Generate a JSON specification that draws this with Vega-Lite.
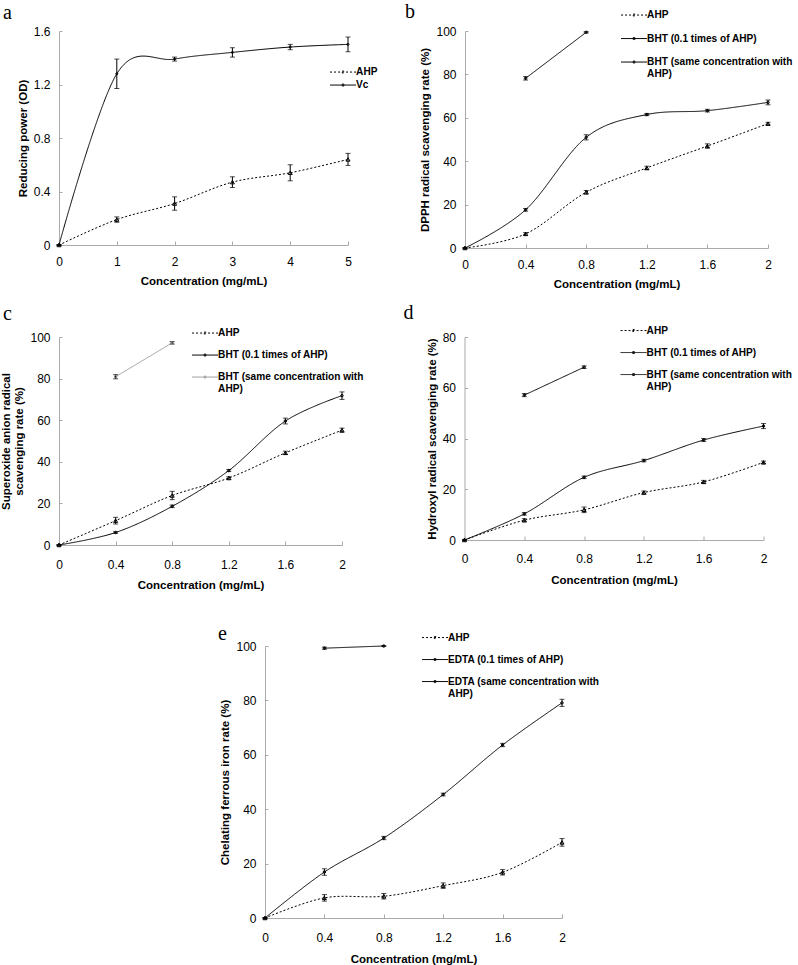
{
  "$schema": "https://vega.github.io/schema/vega-lite/v6.json",
  "padding": {"left": 0, "top": 2, "right": 0, "bottom": 0},
  "config": {
    "view": {"stroke": null},
    "font": "Liberation Sans",
    "axis": {"grid": false, "domainColor": "#aaaaaa", "tickColor": "#aaaaaa", "labelFont": "Liberation Sans", "labelFontSize": 12, "labelColor": "#000", "titleFont": "Liberation Sans", "titleFontSize": 11.5, "titleFontWeight": "bold", "titleColor": "#000"},
    "axisX": {"tickSize": -4, "labelPadding": 15, "titlePadding": 8, "labelFlush": false},
    "axisY": {"tickSize": -3, "labelPadding": 12, "titlePadding": 5},
    "legend": {"title": null, "orient": "none", "symbolType": "M-1,0L5.5,0M2.05,-0.25L2.45,-0.25L2.45,0.25L2.05,0.25Z", "symbolSize": 64, "symbolStrokeWidth": 1, "symbolFillColor": "transparent", "labelOffset": 17, "padding": 0, "rowPadding": 11, "labelFont": "Liberation Sans", "labelFontWeight": "bold", "labelFontSize": 10.1, "labelColor": "#000", "labelLimit": 500},
    "tick": {"bandSize": 6},
    "title": {"anchor": "start", "frame": "group", "font": "Liberation Serif", "fontSize": 20, "fontWeight": "normal", "baseline": "bottom", "color": "#000"}
  },
  "resolve": {"scale": {"color": "independent", "strokeDash": "independent"}, "legend": {"color": "independent", "strokeDash": "independent"}},
  "vconcat": [
    {
      "resolve": {"scale": {"color": "independent", "strokeDash": "independent"}, "legend": {"color": "independent", "strokeDash": "independent"}},
      "vconcat": [
        {
          "resolve": {"scale": {"color": "independent", "strokeDash": "independent"}, "legend": {"color": "independent", "strokeDash": "independent"}},
          "hconcat": [
            {
              "width": 289, "height": 214,
              "title": {"text": "a", "dx": -56, "offset": 2},
              "data": {"values": [
                {"x": 0, "y": 0, "err": 0, "s": "AHP"},
                {"x": 1, "y": 0.19, "err": 0.02, "s": "AHP"},
                {"x": 2, "y": 0.31, "err": 0.05, "s": "AHP"},
                {"x": 3, "y": 0.47, "err": 0.04, "s": "AHP"},
                {"x": 4, "y": 0.54, "err": 0.06, "s": "AHP"},
                {"x": 5, "y": 0.64, "err": 0.045, "s": "AHP"},
                {"x": 0, "y": 0, "err": 0, "s": "Vc"},
                {"x": 1, "y": 1.28, "err": 0.11, "s": "Vc"},
                {"x": 2, "y": 1.39, "err": 0.015, "s": "Vc"},
                {"x": 3, "y": 1.44, "err": 0.035, "s": "Vc"},
                {"x": 4, "y": 1.48, "err": 0.02, "s": "Vc"},
                {"x": 5, "y": 1.5, "err": 0.055, "s": "Vc"}
              ]},
              "encoding": {
                "x": {"field": "x", "type": "quantitative", "scale": {"domain": [0, 5], "nice": false}, "axis": {"values": [0, 1, 2, 3, 4, 5], "format": "~g", "title": "Concentration (mg/mL)"}},
                "y": {"field": "y", "type": "quantitative", "scale": {"domain": [0, 1.6], "nice": false}, "axis": {"values": [0, 0.4, 0.8, 1.2, 1.6], "format": "~g", "title": "Reducing power (OD)"}}
              },
              "layer": [
                {
                  "mark": {"type": "line", "interpolate": "cardinal", "strokeWidth": 1},
                  "encoding": {
                    "color": {"field": "s", "type": "nominal", "scale": {"domain": ["AHP", "Vc"], "range": ["#000000", "#000000"]},
                      "legend": {"legendX": 270, "legendY": 36, "rowPadding": 2, "symbolType": "M-1,0L5.5,0M2.05,-0.25L2.45,-0.25L2.45,0.25L2.05,0.25Z"}},
                    "strokeDash": {"field": "s", "type": "nominal", "scale": {"domain": ["AHP", "Vc"], "range": [[2, 2], [1, 0]]}}
                  }
                },
                {
                  "mark": {"type": "errorbar", "ticks": true, "color": "#000", "thickness": 1},
                  "encoding": {"yError": {"field": "err"}, "detail": {"field": "s"}}
                },
                {
                  "mark": {"type": "point", "filled": false, "strokeWidth": 1, "opacity": 1, "color": "#000"},
                  "encoding": {
                    "shape": {"condition": {"test": "datum.s=='AHP'", "value": "triangle-up"}, "value": "circle"},
                    "size": {"condition": {"test": "datum.s=='AHP'", "value": 16}, "value": 4}}
                }
              ]
            },
            {
              "width": 303, "height": 217,
              "title": {"text": "b", "dx": -60, "offset": -12},
              "data": {"values": [
                {"x": 0, "y": 0, "err": 0, "s": "AHP"},
                {"x": 0.4, "y": 6.5, "err": 0.6, "s": "AHP"},
                {"x": 0.8, "y": 25.7, "err": 0.8, "s": "AHP"},
                {"x": 1.2, "y": 36.9, "err": 0.8, "s": "AHP"},
                {"x": 1.6, "y": 47, "err": 1, "s": "AHP"},
                {"x": 2, "y": 57.3, "err": 0.6, "s": "AHP"},
                {"x": 0, "y": 0, "err": 0, "s": "BHT (0.1 times of AHP)"},
                {"x": 0.4, "y": 17.6, "err": 0.6, "s": "BHT (0.1 times of AHP)"},
                {"x": 0.8, "y": 51, "err": 1.2, "s": "BHT (0.1 times of AHP)"},
                {"x": 1.2, "y": 61.5, "err": 0.5, "s": "BHT (0.1 times of AHP)"},
                {"x": 1.6, "y": 63.3, "err": 0.6, "s": "BHT (0.1 times of AHP)"},
                {"x": 2, "y": 67.1, "err": 1.1, "s": "BHT (0.1 times of AHP)"},
                {"x": 0.4, "y": 78.2, "err": 0.8, "s": "BHT (same concentration with AHP)"},
                {"x": 0.8, "y": 99.4, "err": 0.3, "s": "BHT (same concentration with AHP)"}
              ]},
              "encoding": {
                "x": {"field": "x", "type": "quantitative", "scale": {"domain": [0, 2], "nice": false}, "axis": {"values": [0, 0.4, 0.8, 1.2, 1.6, 2], "format": "~g", "title": "Concentration (mg/mL)"}},
                "y": {"field": "y", "type": "quantitative", "scale": {"domain": [0, 100], "nice": false}, "axis": {"values": [0, 20, 40, 60, 80, 100], "title": "DPPH radical scavenging rate (%)"}}
              },
              "layer": [
                {
                  "mark": {"type": "line", "interpolate": "cardinal", "strokeWidth": 1},
                  "encoding": {
                    "color": {"field": "s", "type": "nominal", "scale": {"domain": ["AHP", "BHT (0.1 times of AHP)", "BHT (same concentration with AHP)"], "range": ["#000000", "#000000", "#000000"]},
                      "legend": {"legendX": 155, "legendY": -21, "rowPadding": 12.5, "symbolType": "M-1,0L5.5,0M2.05,-0.25L2.45,-0.25L2.45,0.25L2.05,0.25Z",
                        "labelExpr": "datum.label=='BHT (same concentration with AHP)' ? ['BHT (same concentration with','AHP)'] : datum.label"}},
                    "strokeDash": {"field": "s", "type": "nominal", "scale": {"domain": ["AHP", "BHT (0.1 times of AHP)", "BHT (same concentration with AHP)"], "range": [[2, 2], [1, 0], [1, 0]]}}
                  }
                },
                {
                  "mark": {"type": "errorbar", "ticks": true, "color": "#000", "thickness": 1},
                  "encoding": {"yError": {"field": "err"}, "detail": {"field": "s"}}
                },
                {
                  "mark": {"type": "point", "filled": false, "strokeWidth": 1, "opacity": 1, "color": "#000"},
                  "encoding": {
                    "shape": {"condition": {"test": "datum.s=='AHP'", "value": "triangle-up"}, "value": "circle"},
                    "size": {"condition": {"test": "datum.s=='AHP'", "value": 16}, "value": 6}}
                }
              ]
            }
          ],
          "spacing": 27
        },
        {
          "resolve": {"scale": {"color": "independent", "strokeDash": "independent"}, "legend": {"color": "independent", "strokeDash": "independent"}},
          "hconcat": [
            {
              "width": 283, "height": 208,
              "title": {"text": "c", "dx": -56, "offset": 4},
              "data": {"values": [
                {"x": 0, "y": 0, "err": 0, "s": "AHP"},
                {"x": 0.4, "y": 11.7, "err": 1.6, "s": "AHP"},
                {"x": 0.8, "y": 23.8, "err": 2, "s": "AHP"},
                {"x": 1.2, "y": 32.2, "err": 0.6, "s": "AHP"},
                {"x": 1.6, "y": 44.3, "err": 0.8, "s": "AHP"},
                {"x": 2, "y": 55.2, "err": 1, "s": "AHP"},
                {"x": 0, "y": 0, "err": 0, "s": "BHT (0.1 times of AHP)"},
                {"x": 0.4, "y": 6.0, "err": 0.4, "s": "BHT (0.1 times of AHP)"},
                {"x": 0.8, "y": 18.6, "err": 0.6, "s": "BHT (0.1 times of AHP)"},
                {"x": 1.2, "y": 35.8, "err": 0.5, "s": "BHT (0.1 times of AHP)"},
                {"x": 1.6, "y": 59.6, "err": 1.4, "s": "BHT (0.1 times of AHP)"},
                {"x": 2, "y": 71.8, "err": 1.8, "s": "BHT (0.1 times of AHP)"},
                {"x": 0.4, "y": 80.9, "err": 1, "s": "BHT (same concentration with AHP)"},
                {"x": 0.8, "y": 97.2, "err": 0.6, "s": "BHT (same concentration with AHP)"}
              ]},
              "encoding": {
                "x": {"field": "x", "type": "quantitative", "scale": {"domain": [0, 2], "nice": false}, "axis": {"values": [0, 0.4, 0.8, 1.2, 1.6, 2], "format": "~g", "title": "Concentration (mg/mL)", "labelPadding": 18, "titlePadding": 9}},
                "y": {"field": "y", "type": "quantitative", "scale": {"domain": [0, 100], "nice": false}, "axis": {"values": [0, 20, 40, 60, 80, 100], "title": ["Superoxide anion radical", "scavenging rate (%)"]}}
              },
              "layer": [
                {
                  "mark": {"type": "line", "interpolate": "cardinal", "strokeWidth": 1},
                  "encoding": {
                    "color": {"field": "s", "type": "nominal", "scale": {"domain": ["AHP", "BHT (0.1 times of AHP)", "BHT (same concentration with AHP)"], "range": ["#000000", "#000000", "#a0a0a0"]},
                      "legend": {"legendX": 132, "legendY": -9, "symbolType": "M-1,0L5.5,0M2.05,-0.25L2.45,-0.25L2.45,0.25L2.05,0.25Z",
                        "labelExpr": "datum.label=='BHT (same concentration with AHP)' ? ['BHT (same concentration with','AHP)'] : datum.label"}},
                    "strokeDash": {"field": "s", "type": "nominal", "scale": {"domain": ["AHP", "BHT (0.1 times of AHP)", "BHT (same concentration with AHP)"], "range": [[2, 2], [1, 0], [1, 0]]}}
                  }
                },
                {
                  "mark": {"type": "errorbar", "ticks": true, "color": "#000", "thickness": 1},
                  "encoding": {"yError": {"field": "err"}, "detail": {"field": "s"}}
                },
                {
                  "mark": {"type": "point", "filled": false, "strokeWidth": 1, "opacity": 1},
                  "encoding": {
                    "color": {"condition": {"test": "datum.s=='BHT (same concentration with AHP)'", "value": "#777777"}, "value": "#000000"},
                    "shape": {"condition": {"test": "datum.s=='AHP'", "value": "triangle-up"}, "value": "circle"},
                    "size": {"condition": {"test": "datum.s=='AHP'", "value": 16}, "value": 6}}
                }
              ]
            },
            {
              "width": 299, "height": 203,
              "title": {"text": "d", "dx": -61, "offset": 2.5},
              "data": {"values": [
                {"x": 0, "y": 0, "err": 0, "s": "AHP"},
                {"x": 0.4, "y": 7.8, "err": 0.6, "s": "AHP"},
                {"x": 0.8, "y": 11.9, "err": 1.1, "s": "AHP"},
                {"x": 1.2, "y": 18.7, "err": 0.6, "s": "AHP"},
                {"x": 1.6, "y": 22.9, "err": 0.6, "s": "AHP"},
                {"x": 2, "y": 30.6, "err": 0.5, "s": "AHP"},
                {"x": 0, "y": 0, "err": 0, "s": "BHT (0.1 times of AHP)"},
                {"x": 0.4, "y": 10.3, "err": 0.5, "s": "BHT (0.1 times of AHP)"},
                {"x": 0.8, "y": 24.7, "err": 0.5, "s": "BHT (0.1 times of AHP)"},
                {"x": 1.2, "y": 31.3, "err": 0.5, "s": "BHT (0.1 times of AHP)"},
                {"x": 1.6, "y": 39.4, "err": 0.6, "s": "BHT (0.1 times of AHP)"},
                {"x": 2, "y": 44.9, "err": 1, "s": "BHT (0.1 times of AHP)"},
                {"x": 0.4, "y": 57.1, "err": 0.6, "s": "BHT (same concentration with AHP)"},
                {"x": 0.8, "y": 68.1, "err": 0.5, "s": "BHT (same concentration with AHP)"}
              ]},
              "encoding": {
                "x": {"field": "x", "type": "quantitative", "scale": {"domain": [0, 2], "nice": false}, "axis": {"values": [0, 0.4, 0.8, 1.2, 1.6, 2], "format": "~g", "title": "Concentration (mg/mL)", "labelPadding": 17, "titlePadding": 10}},
                "y": {"field": "y", "type": "quantitative", "scale": {"domain": [0, 80], "nice": false}, "axis": {"values": [0, 20, 40, 60, 80], "title": "Hydroxyl radical scavenging rate (%)"}}
              },
              "layer": [
                {
                  "mark": {"type": "line", "interpolate": "cardinal", "strokeWidth": 1},
                  "encoding": {
                    "color": {"field": "s", "type": "nominal", "scale": {"domain": ["AHP", "BHT (0.1 times of AHP)", "BHT (same concentration with AHP)"], "range": ["#000000", "#000000", "#000000"]},
                      "legend": {"legendX": 155, "legendY": -11.5, "symbolType": "M-1,0L5.5,0M2.05,-0.25L2.45,-0.25L2.45,0.25L2.05,0.25Z",
                        "labelExpr": "datum.label=='BHT (same concentration with AHP)' ? ['BHT (same concentration with','AHP)'] : datum.label"}},
                    "strokeDash": {"field": "s", "type": "nominal", "scale": {"domain": ["AHP", "BHT (0.1 times of AHP)", "BHT (same concentration with AHP)"], "range": [[2, 2], [1, 0], [1, 0]]}}
                  }
                },
                {
                  "mark": {"type": "errorbar", "ticks": true, "color": "#000", "thickness": 1},
                  "encoding": {"yError": {"field": "err"}, "detail": {"field": "s"}}
                },
                {
                  "mark": {"type": "point", "filled": false, "strokeWidth": 1, "opacity": 1, "color": "#000"},
                  "encoding": {
                    "shape": {"condition": {"test": "datum.s=='AHP'", "value": "triangle-up"}, "value": "circle"},
                    "size": {"condition": {"test": "datum.s=='AHP'", "value": 16}, "value": 6}}
                }
              ]
            }
          ],
          "spacing": 39.5
        }
      ],
      "spacing": 13
    },
    {
      "resolve": {"scale": {"color": "independent", "strokeDash": "independent"}, "legend": {"color": "independent", "strokeDash": "independent"}},
      "hconcat": [
        {
          "width": 159, "height": 10,
          "view": {"fill": "#ffffff", "stroke": null},
          "data": {"values": [{"blank": ""}]},
          "mark": {"type": "text"},
          "encoding": {"text": {"field": "blank"}}
        },
        {
          "width": 297, "height": 272,
          "title": {"text": "e", "dx": -47, "offset": -11.5},
          "data": {"values": [
            {"x": 0, "y": 0, "err": 0, "s": "AHP"},
            {"x": 0.4, "y": 7.4, "err": 1.2, "s": "AHP"},
            {"x": 0.8, "y": 8.0, "err": 1, "s": "AHP"},
            {"x": 1.2, "y": 11.9, "err": 1, "s": "AHP"},
            {"x": 1.6, "y": 16.8, "err": 1, "s": "AHP"},
            {"x": 2, "y": 27.8, "err": 1.4, "s": "AHP"},
            {"x": 0, "y": 0, "err": 0, "s": "EDTA (0.1 times of AHP)"},
            {"x": 0.4, "y": 16.9, "err": 1.2, "s": "EDTA (0.1 times of AHP)"},
            {"x": 0.8, "y": 29.4, "err": 0.6, "s": "EDTA (0.1 times of AHP)"},
            {"x": 1.2, "y": 45.4, "err": 0.5, "s": "EDTA (0.1 times of AHP)"},
            {"x": 1.6, "y": 63.6, "err": 0.6, "s": "EDTA (0.1 times of AHP)"},
            {"x": 2, "y": 79.1, "err": 1.3, "s": "EDTA (0.1 times of AHP)"},
            {"x": 0.4, "y": 99.2, "err": 0.4, "s": "EDTA (same concentration with AHP)"},
            {"x": 0.8, "y": 100, "err": 0.2, "s": "EDTA (same concentration with AHP)"}
          ]},
          "encoding": {
            "x": {"field": "x", "type": "quantitative", "scale": {"domain": [0, 2], "nice": false}, "axis": {"values": [0, 0.4, 0.8, 1.2, 1.6, 2], "format": "~g", "title": "Concentration (mg/mL)", "labelPadding": 18, "titlePadding": 10}},
            "y": {"field": "y", "type": "quantitative", "scale": {"domain": [0, 100], "nice": false}, "axis": {"values": [0, 20, 40, 60, 80, 100], "title": "Chelating ferrous iron rate (%)"}}
          },
          "layer": [
            {
              "mark": {"type": "line", "interpolate": "cardinal", "strokeWidth": 1},
              "encoding": {
                "color": {"field": "s", "type": "nominal", "scale": {"domain": ["AHP", "EDTA (0.1 times of AHP)", "EDTA (same concentration with AHP)"], "range": ["#000000", "#000000", "#000000"]},
                  "legend": {"legendX": 156, "legendY": -13.5, "symbolType": "M-1,0L5.5,0M2.05,-0.25L2.45,-0.25L2.45,0.25L2.05,0.25Z",
                    "labelExpr": "datum.label=='EDTA (same concentration with AHP)' ? ['EDTA (same concentration with','AHP)'] : datum.label"}},
                "strokeDash": {"field": "s", "type": "nominal", "scale": {"domain": ["AHP", "EDTA (0.1 times of AHP)", "EDTA (same concentration with AHP)"], "range": [[2, 2], [1, 0], [1, 0]]}}
              }
            },
            {
              "mark": {"type": "errorbar", "ticks": true, "color": "#000", "thickness": 1},
              "encoding": {"yError": {"field": "err"}, "detail": {"field": "s"}}
            },
            {
              "mark": {"type": "point", "filled": false, "strokeWidth": 1, "opacity": 1, "color": "#000"},
              "encoding": {
                "shape": {"condition": {"test": "datum.s=='AHP'", "value": "triangle-up"}, "value": "circle"},
                "size": {"condition": {"test": "datum.s=='AHP'", "value": 16}, "value": 6}}
            }
          ]
        }
      ],
      "spacing": 0
    }
  ],
  "spacing": 33
}
